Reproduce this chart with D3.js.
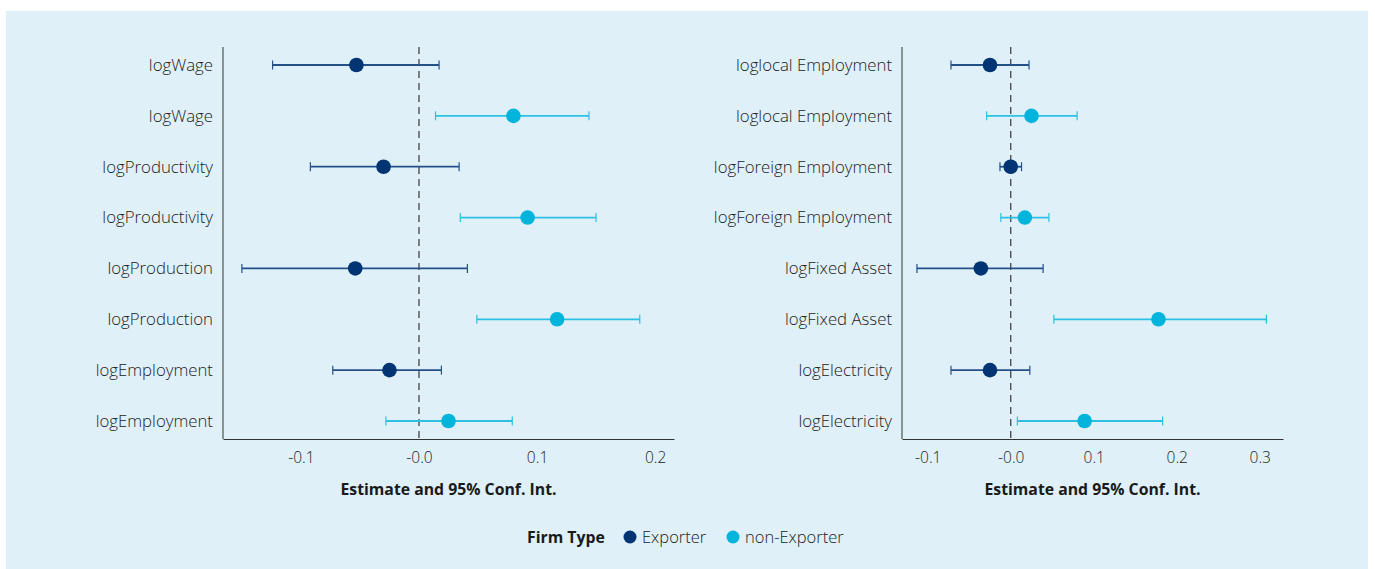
<!DOCTYPE html>
<html>
<head>
<meta charset="utf-8">
<script src="https://cdn.jsdelivr.net/npm/d3@7"></script>
<style>
  body { margin: 0; background: #fff; }
  svg text { font-family: "Open Sans", "Noto Sans", sans-serif; }
</style>
</head>
<body>
<script>
// ---- data ----
const firmTypes = ['Exporter', 'non-Exporter'];
const rowType = ['Exporter', 'non-Exporter', 'Exporter', 'non-Exporter', 'Exporter', 'non-Exporter', 'Exporter', 'non-Exporter'];

const leftLabels = ['logWage', 'logWage', 'logProductivity', 'logProductivity', 'logProduction', 'logProduction', 'logEmployment', 'logEmployment'];
const leftEst  = [-0.053, 0.080, -0.030, 0.092, -0.054, 0.117, -0.025, 0.025];
const leftLow  = [-0.124, 0.014, -0.092, 0.035, -0.150, 0.049, -0.073, -0.028];
const leftHigh = [0.017, 0.144, 0.034, 0.150, 0.041, 0.187, 0.019, 0.079];
const leftTicks = [-0.1, 0, 0.1, 0.2];

const rightLabels = ['loglocal Employment', 'loglocal Employment', 'logForeign Employment', 'logForeign Employment', 'logFixed Asset', 'logFixed Asset', 'logElectricity', 'logElectricity'];
const rightEst  = [-0.025, 0.025, 0.0, 0.017, -0.036, 0.178, -0.025, 0.089];
const rightLow  = [-0.072, -0.029, -0.013, -0.012, -0.113, 0.052, -0.072, 0.008];
const rightHigh = [0.022, 0.080, 0.013, 0.046, 0.039, 0.308, 0.023, 0.183];
const rightTicks = [-0.1, 0, 0.1, 0.2, 0.3];

const colors = { 'Exporter': '#003473', 'non-Exporter': '#00b4dc' };
const lineColors = { 'Exporter': '#24508a', 'non-Exporter': '#2cc0e2' };

const W = 1375, H = 569;
const svg = d3.select('body').append('svg').attr('width', W).attr('height', H);

svg.append('rect')
  .attr('x', 6).attr('y', 11)
  .attr('width', 1362).attr('height', 558)
  .attr('fill', '#dff0f8');

function fmt(d) {
  return (d <= 0 ? '-' : '') + Math.abs(d).toFixed(1);
}

function panel(opts) {
  const { x0, x1, domain, labels, est, low, high, ticks } = opts;
  const top = 47, bottom = 439;

  const x = d3.scaleLinear().domain(domain).range([x0, x1]);
  const y = d3.scalePoint().domain(d3.range(labels.length)).range([top, bottom]).padding(0.354);

  const g = svg.append('g');

  // zero line
  g.append('line')
    .attr('x1', x(0)).attr('x2', x(0))
    .attr('y1', top).attr('y2', bottom)
    .attr('stroke', '#444').attr('stroke-width', 1.3)
    .attr('stroke-dasharray', '7,5');

  // y axis
  const yAxis = d3.axisLeft(y).tickSize(0).tickPadding(10).tickFormat(i => labels[i]);
  const ya = g.append('g').attr('transform', `translate(${x0},0)`).call(yAxis);
  ya.select('.domain').attr('stroke', '#333').attr('d', `M0,${top}V${bottom}`);
  ya.selectAll('text').attr('font-size', 16.8).attr('fill', '#222').attr('font-weight', 300);

  // x axis
  const xAxis = d3.axisBottom(x).tickValues(ticks).tickSize(0).tickPadding(13).tickFormat(fmt);
  const xa = g.append('g').attr('transform', `translate(0,${bottom})`).call(xAxis);
  xa.select('.domain').attr('stroke', '#333');
  xa.selectAll('text').attr('font-size', 15.5).attr('fill', '#222').attr('font-weight', 300);

  // title
  g.append('text')
    .attr('x', (x0 + x1) / 2).attr('y', 495)
    .attr('text-anchor', 'middle')
    .attr('font-size', 15.8).attr('font-weight', 700).attr('fill', '#1a1a1a')
    .text('Estimate and 95% Conf. Int.');

  const rows = g.selectAll('g.row').data(d3.range(labels.length)).enter()
    .append('g').attr('class', 'row');

  rows.append('line')
    .attr('x1', i => x(low[i])).attr('x2', i => x(high[i]))
    .attr('y1', i => y(i)).attr('y2', i => y(i))
    .attr('stroke', i => lineColors[rowType[i]]).attr('stroke-width', 1.8);

  [low, high].forEach(arr => {
    rows.append('line')
      .attr('x1', i => x(arr[i])).attr('x2', i => x(arr[i]))
      .attr('y1', i => y(i) - 4.5).attr('y2', i => y(i) + 4.5)
      .attr('stroke', i => lineColors[rowType[i]]).attr('stroke-width', 1.2);
  });

  rows.append('circle')
    .attr('cx', i => x(est[i])).attr('cy', i => y(i))
    .attr('r', 7.3)
    .attr('fill', i => colors[rowType[i]]);
}

panel({ x0: 223, x1: 674, domain: [-0.166, 0.216], labels: leftLabels, est: leftEst, low: leftLow, high: leftHigh, ticks: leftTicks });
panel({ x0: 902, x1: 1283, domain: [-0.131, 0.328], labels: rightLabels, est: rightEst, low: rightLow, high: rightHigh, ticks: rightTicks });

// legend
const lg = svg.append('g').attr('transform', 'translate(0,537)');
lg.append('text').attr('x', 527).attr('y', 0).attr('dy', '0.35em')
  .attr('font-size', 15.8).attr('font-weight', 700).attr('fill', '#1a1a1a')
  .text('Firm Type');
const legX = [630, 733];
firmTypes.forEach((t, k) => {
  lg.append('circle').attr('cx', legX[k]).attr('cy', 0).attr('r', 6.5).attr('fill', colors[t]);
  lg.append('text').attr('x', legX[k] + 12).attr('y', 0).attr('dy', '0.35em')
    .attr('font-size', 16.5).attr('font-weight', 300).attr('fill', '#222').text(t);
});
</script>
</body>
</html>
